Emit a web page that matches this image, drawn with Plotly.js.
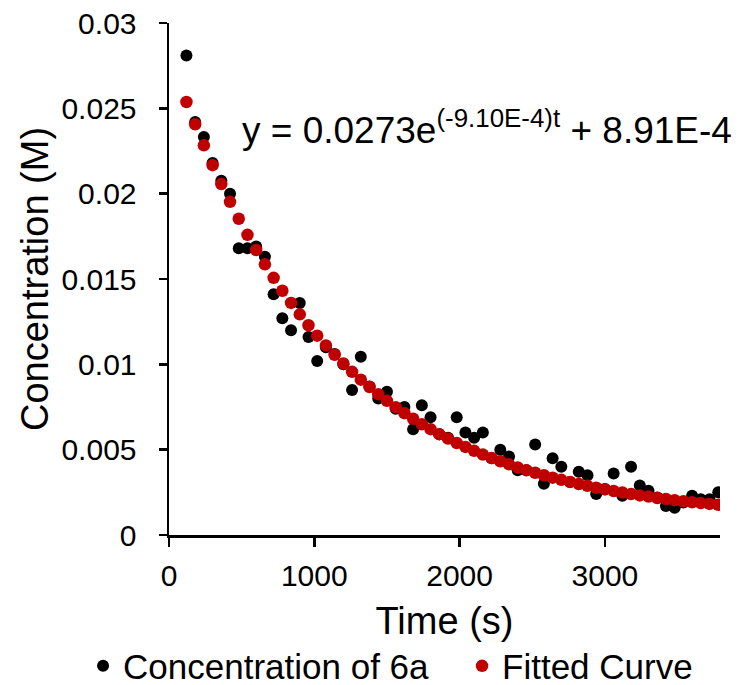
<!DOCTYPE html>
<html>
<head>
<meta charset="utf-8">
<script src="https://cdn.plot.ly/plotly-3.0.1.min.js"></script>
<style>html,body{margin:0;padding:0;background:#fff;}#chart{width:747px;height:685px;}</style>
</head>
<body>
<div id="chart"></div>
<script>
const times = [120,180,240,300,360,420,480,540,600,660,720,780,840,900,960,1020,1080,1140,1200,1260,1320,1380,1440,1500,1560,1620,1680,1740,1800,1860,1920,1980,2040,2100,2160,2220,2280,2340,2400,2460,2520,2580,2640,2700,2760,2820,2880,2940,3000,3060,3120,3180,3240,3300,3360,3420,3480,3540,3600,3660,3720,3780];
const concentration6a = [0.0281,0.0242,0.02332,0.0218,0.02076,0.0200,0.0168,0.0168,0.0169,0.0163,0.0141,0.0127,0.0120,0.0136,0.0116,0.0102,0.0110,0.0106,0.0100,0.0085,0.01045,0.0087,0.0080,0.0084,0.0074,0.0075,0.0062,0.0076,0.0069,0.0059,0.0057,0.0069,0.0060,0.0057,0.0060,0.0045,0.0050,0.0046,0.0038,0.0038,0.0053,0.0030,0.0045,0.0040,0.0031,0.0037,0.0035,0.0024,0.0027,0.0036,0.0023,0.0040,0.0029,0.0026,0.0022,0.0017,0.0016,0.0019,0.0023,0.0021,0.0021,0.0025];
const fittedCurve = [0.02537,0.02407,0.02283,0.02167,0.02056,0.01952,0.01853,0.01759,0.01670,0.01586,0.01507,0.01431,0.01360,0.01293,0.01229,0.01168,0.01111,0.01056,0.01005,0.00956,0.00910,0.00867,0.00825,0.00786,0.00749,0.00714,0.00681,0.00649,0.00620,0.00591,0.00565,0.00539,0.00516,0.00493,0.00471,0.00451,0.00432,0.00414,0.00396,0.00380,0.00365,0.00350,0.00336,0.00323,0.00311,0.00299,0.00288,0.00277,0.00267,0.00258,0.00249,0.00240,0.00232,0.00225,0.00217,0.00211,0.00204,0.00198,0.00192,0.00187,0.00182,0.00177];
const xTicks = [0,1000,2000,3000];
const yTicks = [0,0.005,0.01,0.015,0.02,0.025,0.03];
const yTickText = ['0','0.005','0.01','0.015','0.02','0.025','0.03'];
const seriesNames = ['Concentration of 6a','Fitted Curve'];
const equationText = 'y = 0.0273e<sup>(-9.10E-4)t</sup> + 8.91E-4';

const font = 'Liberation Sans, Arial, sans-serif';
const traces = [
  {x: times, y: concentration6a, mode: 'markers', type: 'scatter', name: seriesNames[0],
   marker: {color: '#000000', size: 12}, legendwidth: 334},
  {x: times, y: fittedCurve, mode: 'markers', type: 'scatter', name: seriesNames[1],
   marker: {color: '#c00000', size: 12.5}}
];
const layout = {
  width: 747, height: 685,
  margin: {l: 169, r: 27, t: 23, b: 150, autoexpand: false},
  paper_bgcolor: '#ffffff', plot_bgcolor: '#ffffff',
  font: {family: font, color: '#000000', size: 30},
  showlegend: true,
  legend: {orientation: 'h', xref: 'paper', yref: 'paper',
           x: -0.156, xanchor: 'left', y: -0.256, yanchor: 'middle',
           font: {size: 35, family: font}, itemwidth: 30, tracegroupgap: 0},
  xaxis: {range: [0, 3792], tickvals: xTicks, ticktext: xTicks.map(String), automargin: true,
          showgrid: false, zeroline: false, showline: true, linecolor: '#000', linewidth: 2.5,
          ticks: 'outside', ticklen: 9, tickwidth: 2.5, tickcolor: '#000',
          tickfont: {size: 30, family: font}, ticklabelstandoff: 3,
          title: {text: 'Time (s)', font: {size: 38, family: font}, standoff: 17}},
  yaxis: {range: [0, 0.03], tickvals: yTicks, ticktext: yTickText, automargin: true,
          showgrid: false, zeroline: false, showline: true, linecolor: '#000', linewidth: 2.5,
          ticks: 'outside', ticklen: 8, tickwidth: 2.5, tickcolor: '#000',
          tickfont: {size: 30, family: font}, ticklabelstandoff: 16,
          title: {text: 'Concentration (M)', font: {size: 38, family: font}, standoff: 1}},
  annotations: [{
    text: equationText, xref: 'paper', yref: 'paper', x: 0.128, y: 0.795,
    xanchor: 'left', yanchor: 'middle', showarrow: false,
    font: {size: 37, family: font, color: '#000'}
  }]
};
Plotly.newPlot('chart', traces, layout, {displayModeBar: false, staticPlot: true});
</script>
</body>
</html>
